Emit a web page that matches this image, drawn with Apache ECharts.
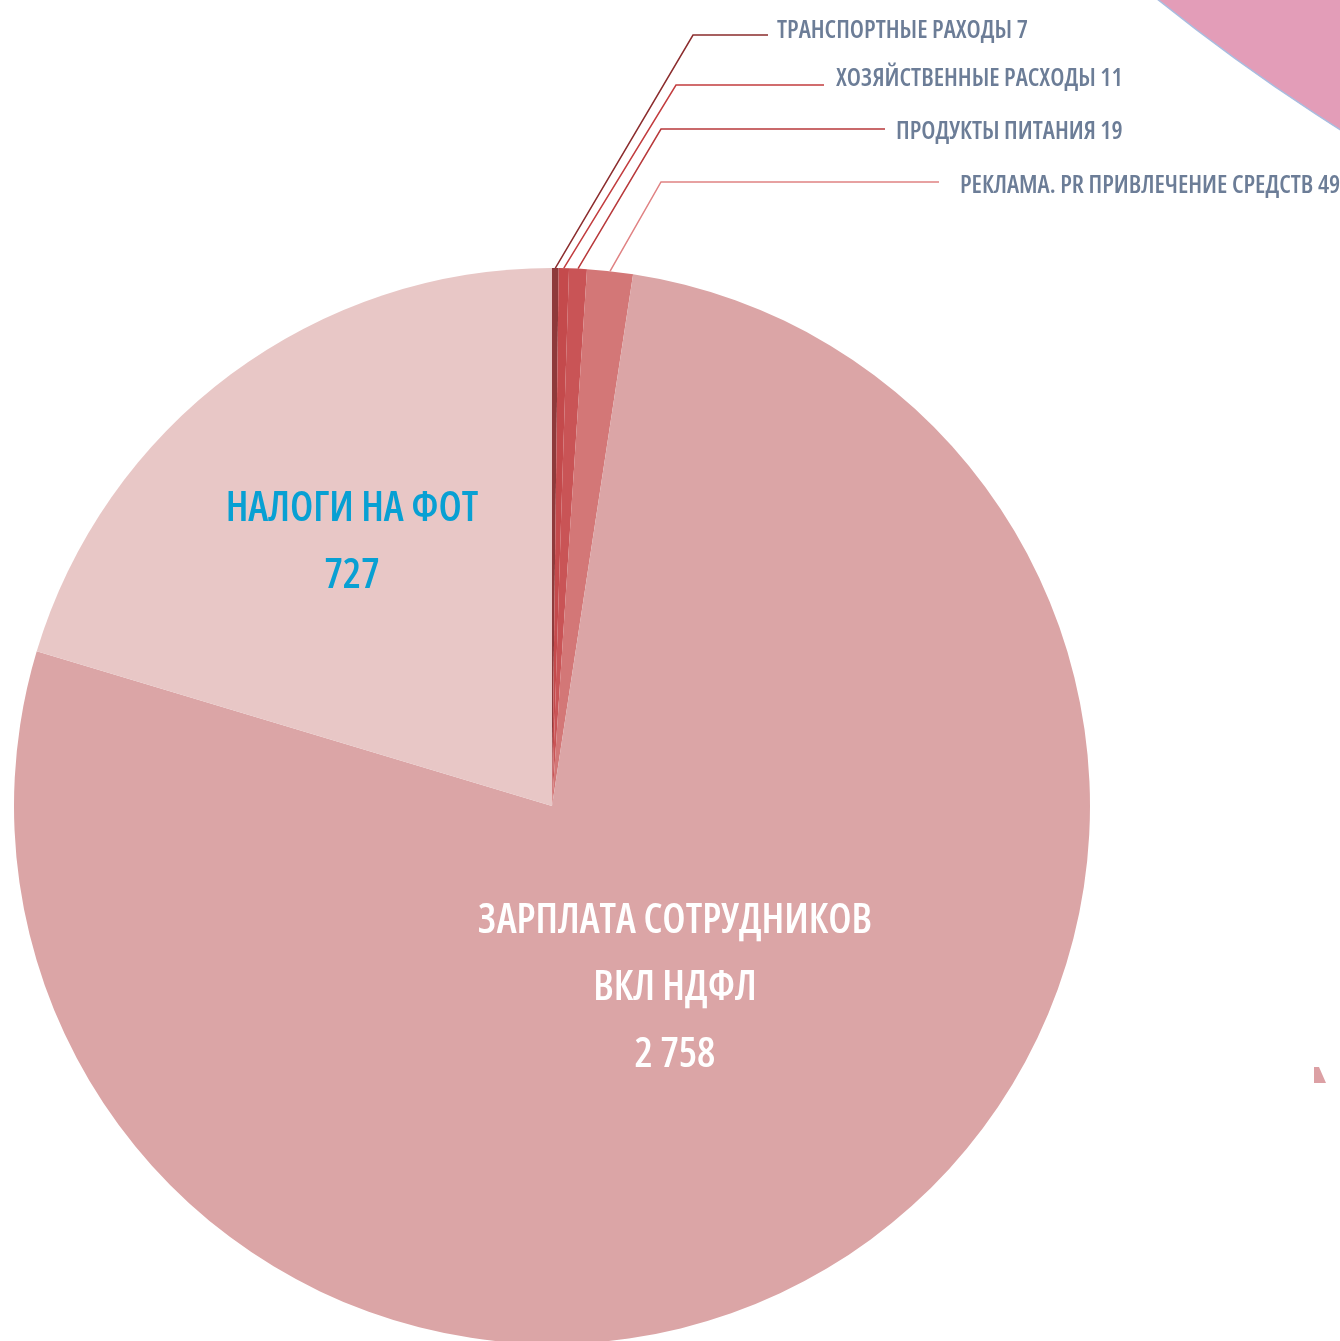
<!DOCTYPE html>
<html>
<head>
<meta charset="utf-8">
<script src="https://cdn.jsdelivr.net/npm/echarts@6/dist/echarts.min.js"></script>
<style>
    html, body { margin: 0; padding: 0; background: #fff; }
    #chart { width: 1340px; height: 1341px; }
</style>
</head>
<body>
<div id="chart"></div>
<script>
const names = [
    'ТРАНСПОРТНЫЕ РАХОДЫ',
    'ХОЗЯЙСТВЕННЫЕ РАСХОДЫ',
    'ПРОДУКТЫ ПИТАНИЯ',
    'РЕКЛАМА. PR ПРИВЛЕЧЕНИЕ СРЕДСТВ',
    'ЗАРПЛАТА СОТРУДНИКОВ\nВКЛ НДФЛ',
    'НАЛОГИ НА ФОТ'
];
const values = [7, 11, 19, 49, 2758, 727];
const colors = ['#8e3a3b', '#c44a4c', '#c95456', '#d37777', '#dba5a6', '#e8c7c6'];
const lineColors = ['#8b2c2d', '#c23c3e', '#b8393b', '#e08283'];

// Open Sans has a width axis, ultra-condensed gets its narrowest cut
const fontFamily = "'Open Sans', 'DejaVu Sans Condensed', sans-serif";

// where each label sits
const labelSpots = [
    { x: 777, y: 31, lineY: 35, elbowX: 693, endX: 768 },
    { x: 836, y: 79, lineY: 85, elbowX: 676, endX: 824 },
    { x: 896, y: 132, lineY: 129, elbowX: 661, endX: 885 },
    { x: 960, y: 186, lineY: 182, elbowX: 661, endX: 939 },
    { x: 675, y: 988 },
    { x: 352, y: 543 }
];

const fmt = v => String(v).replace(/\B(?=(\d{3})+(?!\d))/g, ' ');

const seriesData = names.map((name, i) => {
    const item = {
        name,
        value: values[i],
        itemStyle: { color: colors[i] }
    };
    if (i < 4) {
        item.label = {
            show: true,
            position: 'outside',
            formatter: p => p.name + ' ' + fmt(p.value),
            color: '#6c7d97',
            fontSize: 25,
            fontWeight: '600 ultra-condensed',
            fontFamily
        };
        item.labelLine = {
            show: true,
            lineStyle: { color: lineColors[i], width: 1.5 }
        };
    } else {
        item.label = {
            show: true,
            position: 'inside',
            formatter: p => p.name + '\n' + fmt(p.value),
            color: i === 4 ? '#ffffff' : '#08a0d3',
            fontSize: 41,
            fontWeight: '600 ultra-condensed',
            lineHeight: 67,
            align: 'center',
            fontFamily
        };
        item.labelLine = { show: false };
    }
    return item;
});

const chart = echarts.init(document.getElementById('chart'));
chart.setOption({
    animation: false,
    graphic: [
        {
            type: 'circle',
            z: -1,
            shape: { cx: 2410, cy: -1560, r: 2000 },
            style: { fill: '#e39db8', stroke: '#a9bde0', lineWidth: 1.5 }
        },
        {
            type: 'polygon',
            z: -1,
            shape: { points: [[1314, 1067], [1319, 1067], [1326, 1083], [1314, 1083]] },
            style: { fill: '#dca0a4' }
        }
    ],
    series: [
        {
            type: 'pie',
            center: [552, 806],
            radius: [0, 538],
            startAngle: 90,
            clockwise: true,
            avoidLabelOverlap: false,
            data: seriesData,
            labelLayout: params => {
                const s = labelSpots[params.dataIndex];
                if (params.dataIndex >= 4) {
                    return { x: s.x, y: s.y, align: 'center', verticalAlign: 'middle' };
                }
                const start = params.labelLinePoints ? params.labelLinePoints[0] : [552, 268];
                return {
                    x: s.x,
                    y: s.y,
                    align: 'left',
                    verticalAlign: 'middle',
                    labelLinePoints: [start, [s.elbowX, s.lineY], [s.endX, s.lineY]]
                };
            }
        }
    ]
});
</script>
</body>
</html>
